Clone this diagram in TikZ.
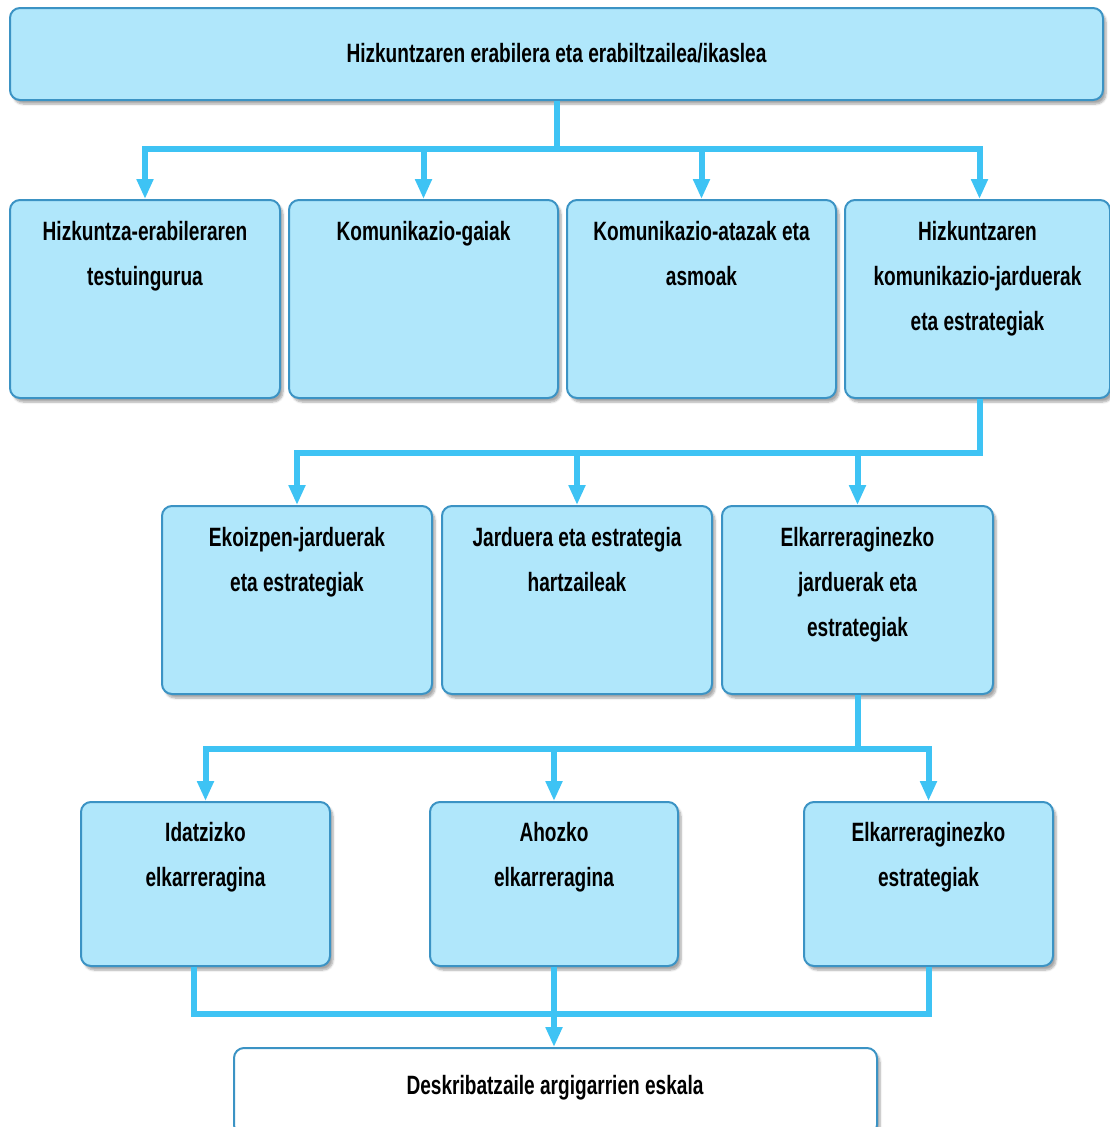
\documentclass[tikz,border=0pt]{standalone}
\usepackage{fontspec}
\setmainfont{Liberation Sans}[FakeStretch=0.72]
\usetikzlibrary{arrows.meta,shadows.blur,calc}
\definecolor{boxfill}{HTML}{B0E7FB}
\definecolor{boxline}{HTML}{3B93C4}
\definecolor{wire}{HTML}{3EC3F4}
\tikzset{
  x=1pt, y=-1pt,
  card/.style={draw=boxline, line width=2pt, fill=boxfill, rounded corners=10pt,
    blur shadow={shadow xshift=3pt, shadow yshift=-4pt, shadow blur steps=6, shadow opacity=35},
    inner sep=0pt},
  plaincard/.style={card, fill=white},
  caption/.style={font=\bfseries\fontsize{26.5}{45}\selectfont, align=center, inner sep=0pt},
  wireline/.style={draw=wire, line width=6pt},
  feed/.style={wireline, -{Triangle[width=16pt,length=20pt]}},
}
\newcommand{\cardat}[6]{% name, x0, y0, x1, y1, style
  \node[#6, minimum width={#4-#2}, minimum height={#5-#3}] (#1) at ({(#2+#4)/2},{(#3+#5)/2}) {};}
\begin{document}
\begin{tikzpicture}
\useasboundingbox (0,0) rectangle (1110,1127);

% top level
\cardat{top}{10}{8}{1103}{100}{card}
\node[caption] at ([yshift=1]top.center) {Hizkuntzaren erabilera eta erabiltzailea/ikaslea};

% first row
\cardat{a1}{10}{200}{280}{398}{card}
\cardat{a2}{289}{200}{558}{398}{card}
\cardat{a3}{567}{200}{836}{398}{card}
\cardat{a4}{845}{200}{1110}{398}{card}
\node[caption, anchor=north] at ([yshift=-22]a1.north) {Hizkuntza-erabileraren\\testuingurua};
\node[caption, anchor=north] at ([yshift=-22]a2.north) {Komunikazio-gaiak};
\node[caption, anchor=north] at ([yshift=-22]a3.north) {Komunikazio-atazak eta\\asmoak};
\node[caption, anchor=north] at ([yshift=-22]a4.north) {Hizkuntzaren\\komunikazio-jarduerak\\eta estrategiak};

% second row
\cardat{b1}{162}{506}{432}{694}{card}
\cardat{b2}{442}{506}{712}{694}{card}
\cardat{b3}{722}{506}{993}{694}{card}
\node[caption, anchor=north] at ([yshift=-22]b1.north) {Ekoizpen-jarduerak\\eta estrategiak};
\node[caption, anchor=north] at ([yshift=-22]b2.north) {Jarduera eta estrategia\\hartzaileak};
\node[caption, anchor=north] at ([yshift=-22]b3.north) {Elkarreraginezko\\jarduerak eta\\estrategiak};

% third row
\cardat{c1}{81}{802}{330}{966}{card}
\cardat{c2}{430}{802}{678}{966}{card}
\cardat{c3}{804}{802}{1053}{966}{card}
\node[caption, anchor=north] at ([yshift=-21]c1.north) {Idatzizko\\elkarreragina};
\node[caption, anchor=north] at ([yshift=-21]c2.north) {Ahozko\\elkarreragina};
\node[caption, anchor=north] at ([yshift=-21]c3.north) {Elkarreraginezko\\estrategiak};

% scale of descriptors
\cardat{d}{234}{1048}{877}{1135}{plaincard}
\node[caption] at (555,1088) {Deskribatzaile argigarrien eskala};

% connectors: top -> first row
\coordinate (j1) at ($(top.south)+(0,48)$);
\draw[wireline] (top.south) -- (j1);
\foreach \t in {a1,a2,a3} \draw[feed] (j1) -| (\t.north);
\draw[feed] (j1) -| ([xshift=2]a4.north);

% fourth card -> second row
\coordinate (j2) at ($(a4.south)+(2,54)$);
\draw[wireline] ([xshift=2]a4.south) -- ($(j2)+(0,3)$);
\foreach \t in {b1,b2,b3} \draw[feed] (j2) -| (\t.north);

% interaction card -> third row
\coordinate (j3) at ($(b3.south)+(0,54)$);
\draw[wireline] (b3.south) -- (j3);
\foreach \t in {c1,c2,c3} \draw[feed] (j3) -| (\t.north);

% third row -> scale
\coordinate (j4) at ($(c2.south)+(0,47)$);
\draw[wireline] ([xshift=-12]c1.south) |- (j4);
\draw[wireline] (c3.south) |- (j4);
\draw[feed] (c2.south) -- (d.north -| c2.south);
\end{tikzpicture}
\end{document}
